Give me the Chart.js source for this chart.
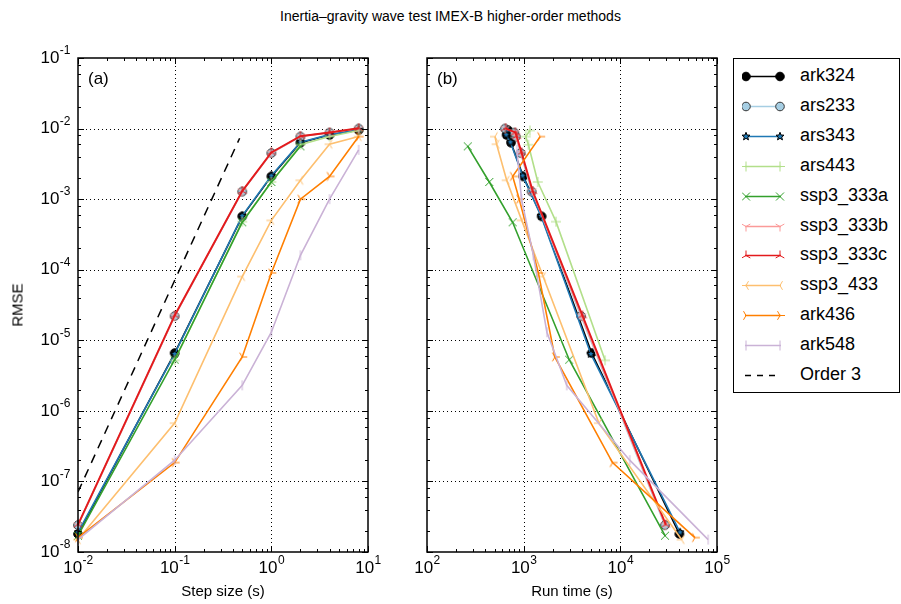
<!DOCTYPE html>
<html>
<head>
<meta charset="utf-8">
<script src="https://cdn.jsdelivr.net/npm/chart.js@4.4.1/dist/chart.umd.min.js"></script>
<style>
  body { margin: 0; background: #fff; font-family: "Liberation Sans", Arial, sans-serif; }
  #wrap { position: relative; width: 901px; height: 604px; overflow: hidden; }
  #c1 { position: absolute; left: 0; top: 0; }
  #c2 { position: absolute; left: 390px; top: 0; }
  .txt { position: absolute; white-space: nowrap; color: #000; }
  #title { left: 0; width: 901px; top: 8px; text-align: center; font-size: 14px; }
  #ylab { left: 17px; top: 305px; font-size: 15px; transform: translate(-50%, -50%) rotate(-90deg); }
  #xlab1 { left: 223px; top: 582px; font-size: 15px; transform: translateX(-50%); }
  #xlab2 { left: 572px; top: 582px; font-size: 15px; transform: translateX(-50%); }
  #legend { position: absolute; left: 733px; top: 58px; width: 165px; height: 333px; border: 1px solid #000; }
  .row { position: absolute; left: 0; width: 165px; height: 24px; }
  .row canvas { position: absolute; left: 8px; top: 2px; }
  .row span { position: absolute; left: 66px; top: 1px; font-size: 18px; white-space: nowrap; }
</style>
</head>
<body>
<div id="wrap">
  <div id="title" class="txt">Inertia–gravity wave test IMEX-B higher-order methods</div>
  <canvas id="c1" width="390" height="604"></canvas>
  <canvas id="c2" width="340" height="604"></canvas>
  <div id="ylab" class="txt">RMSE</div>
  <div id="xlab1" class="txt">Step size (s)</div>
  <div id="xlab2" class="txt">Run time (s)</div>
  <div id="legend"></div>
</div>
<script>
  // step sizes shared by all methods (s)
  var stepSize = [0.01, 0.1, 0.5, 1, 2, 4, 8];

  // RMSE per method, same order as stepSize (null = no run)
  var ark324Rmse = [1.8e-8, 6.6e-6, 5.7e-4, 2.1e-3, 6.3e-3, 8.1e-3, 9.5e-3];
  var ars233Rmse = [2.4e-8, 2.2e-5, 1.28e-3, 4.5e-3, 7.7e-3, 8.75e-3, 1.0e-2];
  var ars343Rmse = [1.9e-8, 6.4e-6, 5.8e-4, 2.15e-3, 6.4e-3, 8.2e-3, 9.6e-3];
  var ars443Rmse = [null, 5.2e-6, 4.8e-4, 1.75e-3, 5.9e-3, 7.7e-3, 9.4e-3];
  var ssp3_333aRmse = [1.7e-8, 5.3e-6, 4.7e-4, 1.75e-3, 5.6e-3, null, null];
  var ssp3_333bRmse = [2.4e-8, 2.2e-5, 1.3e-3, 4.5e-3, 7.8e-3, 8.8e-3, 1.0e-2];
  var ssp3_333cRmse = [2.45e-8, 2.25e-5, 1.3e-3, 4.6e-3, 7.8e-3, 8.8e-3, 1.01e-2];
  var ssp3_433Rmse = [1.5e-8, 6.7e-7, 8.0e-5, 5.0e-4, 1.85e-3, 6.0e-3, 7.7e-3];
  var ark436Rmse = [1.6e-8, 1.85e-7, 5.8e-6, 9.0e-5, 1.0e-3, 2.1e-3, 7.7e-3];
  var ark548Rmse = [1.5e-8, 2.0e-7, 2.3e-6, 1.3e-5, 1.6e-4, 1.0e-3, 5.0e-3];

  // run time per method (s), same order as stepSize
  var ark324Time = [40800, 5050, 1535, 990, 740, 667, 690];
  var ars233Time = [28900, 3920, 1210, 930, 830, 800, 640];
  var ars343Time = [41500, 4950, 1510, 975, 730, 660, 680];
  var ars443Time = [null, 6950, 2160, 1400, 1120, 1050, 1160];
  var ssp3_333aTime = [29000, 2960, 769, 441, 264, null, null];
  var ssp3_333bTime = [29200, 3980, 1225, 940, 835, 810, 645];
  var ssp3_333cTime = [29500, 4050, 1240, 950, 845, 820, 650];
  var ssp3_433Time = [43000, 6000, 1590, 955, 667, 525, 505];
  var ark436Time = [59000, 8300, 2100, 1420, 900, 770, 1480];
  var ark548Time = [81000, 12500, 2790, 1740, 1260, 950, 850];

  // reference slope line
  var order3Step = [0.01, 0.47];
  var order3Rmse = [7.1e-8, 7.3e-3];

  var yTickExp = [-8, -7, -6, -5, -4, -3, -2, -1];
  var x1TickExp = [-2, -1, 0, 1];
  var x2TickExp = [2, 3, 4, 5];

  var series = [
    { name: 'ark324', rmse: ark324Rmse, time: ark324Time, color: '#000000', marker: 'o', fill: '#000000', edge: '#000000' },
    { name: 'ars233', rmse: ars233Rmse, time: ars233Time, color: '#a6cee3', marker: 'o', fill: '#a6cee3', edge: '#333333' },
    { name: 'ars343', rmse: ars343Rmse, time: ars343Time, color: '#1f78b4', marker: 'star', fill: '#1f78b4', edge: '#000000' },
    { name: 'ars443', rmse: ars443Rmse, time: ars443Time, color: '#b2df8a', marker: 'plus' },
    { name: 'ssp3_333a', rmse: ssp3_333aRmse, time: ssp3_333aTime, color: '#33a02c', marker: 'x' },
    { name: 'ssp3_333b', rmse: ssp3_333bRmse, time: ssp3_333bTime, color: '#fb9a99', marker: 'tri_down' },
    { name: 'ssp3_333c', rmse: ssp3_333cRmse, time: ssp3_333cTime, color: '#e31a1c', marker: 'tri_up' },
    { name: 'ssp3_433', rmse: ssp3_433Rmse, time: ssp3_433Time, color: '#fdbf6f', marker: 'tri_left' },
    { name: 'ark436', rmse: ark436Rmse, time: ark436Time, color: '#ff7f00', marker: 'tri_right' },
    { name: 'ark548', rmse: ark548Rmse, time: ark548Time, color: '#cab2d6', marker: 'vline' }
  ];

  var FONT = '"Liberation Sans", Arial, sans-serif';

  // draw one marker centred at (cx, cy)
  function drawMarker(ctx, s, cx, cy) {
    ctx.save();
    ctx.lineWidth = 1;
    ctx.strokeStyle = s.edge || s.color;
    ctx.fillStyle = s.fill || s.color;
    ctx.beginPath();
    var r = 5;
    var arms = null;
    if (s.marker === 'o') {
      ctx.arc(cx, cy, 4.3, 0, Math.PI * 2);
      ctx.fill();
      ctx.stroke();
    } else if (s.marker === 'star') {
      for (var i = 0; i < 10; i++) {
        var rr = i % 2 === 0 ? 4.2 : 1.8;
        var a = -Math.PI / 2 + i * Math.PI / 5;
        var px = cx + rr * Math.cos(a), py = cy + rr * Math.sin(a);
        if (i === 0) ctx.moveTo(px, py); else ctx.lineTo(px, py);
      }
      ctx.closePath();
      ctx.fill();
      ctx.stroke();
    } else if (s.marker === 'plus') {
      arms = [[0, -r], [0, r], [-r, 0], [r, 0]];
    } else if (s.marker === 'x') {
      arms = [[-4, -4], [4, 4], [-4, 4], [4, -4]];
    } else if (s.marker === 'vline') {
      arms = [[0, -r], [0, r]];
    } else {
      var base = { tri_down: Math.PI / 2, tri_up: -Math.PI / 2, tri_left: Math.PI, tri_right: 0 }[s.marker];
      for (var k = 0; k < 3; k++) {
        var ang = base + k * 2 * Math.PI / 3;
        ctx.moveTo(cx, cy);
        ctx.lineTo(cx + r * Math.cos(ang), cy + r * Math.sin(ang));
      }
      ctx.stroke();
    }
    if (arms) {
      for (var j = 0; j < arms.length; j += 2) {
        ctx.moveTo(cx + arms[j][0], cy + arms[j][1]);
        ctx.lineTo(cx + arms[j + 1][0], cy + arms[j + 1][1]);
      }
      ctx.stroke();
    }
    ctx.restore();
  }

  function markerImage(s) {
    var c = document.createElement('canvas');
    c.width = 14; c.height = 14;
    drawMarker(c.getContext('2d'), s, 7, 7);
    return c;
  }

  function powLabel(ctx, x, y, exp, align) {
    var e = exp < 0 ? '-' + (-exp) : '' + exp;
    ctx.font = '17px ' + FONT;
    var bw = ctx.measureText('10').width;
    ctx.font = '12px ' + FONT;
    var ew = ctx.measureText(e).width;
    var left = align === 'right' ? x - bw - ew : x - (bw + ew) / 2;
    ctx.fillStyle = '#000';
    ctx.textAlign = 'left';
    ctx.textBaseline = 'middle';
    ctx.font = '17px ' + FONT;
    ctx.fillText('10', left, y);
    ctx.font = '12px ' + FONT;
    ctx.fillText(e, left + bw + 0.5, y - 7);
  }

  // grid under the data, frame, ticks and labels over it
  function axesPlugin(xExp, showY, panel) {
    return {
      id: 'axes' + panel,
      beforeDatasetsDraw: function (chart) {
        var ctx = chart.ctx, a = chart.chartArea;
        var xs = chart.scales.x, ys = chart.scales.y;
        ctx.save();
        ctx.strokeStyle = '#000';
        ctx.lineWidth = 1;
        ctx.setLineDash([1, 3]);
        ctx.beginPath();
        xExp.slice(1, -1).forEach(function (e) {
          var px = Math.round(xs.getPixelForValue(Math.pow(10, e))) + 0.5;
          ctx.moveTo(px, a.top); ctx.lineTo(px, a.bottom);
        });
        yTickExp.slice(1).forEach(function (e) {
          if (e === -1) return;
          var py = Math.round(ys.getPixelForValue(Math.pow(10, e))) + 0.5;
          ctx.moveTo(a.left, py); ctx.lineTo(a.right, py);
        });
        ctx.stroke();
        ctx.restore();
      },
      afterDraw: function (chart) {
        var ctx = chart.ctx, a = chart.chartArea;
        var xs = chart.scales.x, ys = chart.scales.y;
        ctx.save();
        ctx.strokeStyle = '#000';
        ctx.lineWidth = 1;
        ctx.beginPath();
        var e, m, px, py, len;
        for (e = xExp[0]; e <= xExp[xExp.length - 1]; e++) {
          for (m = 1; m < 10; m++) {
            if (e === xExp[xExp.length - 1] && m > 1) break;
            px = Math.round(xs.getPixelForValue(m * Math.pow(10, e))) + 0.5;
            len = m === 1 ? 6 : 3;
            ctx.moveTo(px, a.bottom); ctx.lineTo(px, a.bottom - len);
            ctx.moveTo(px, a.top); ctx.lineTo(px, a.top + len);
          }
        }
        for (e = -8; e <= -1; e++) {
          for (m = 1; m < 10; m++) {
            if (e === -1 && m > 1) break;
            if (m !== 1 && m % 2 === 1) continue;
            py = Math.round(ys.getPixelForValue(m * Math.pow(10, e))) + 0.5;
            len = m === 1 ? 6 : 3;
            ctx.moveTo(a.left, py); ctx.lineTo(a.left + len, py);
            ctx.moveTo(a.right, py); ctx.lineTo(a.right - len, py);
          }
        }
        ctx.stroke();
        ctx.lineWidth = 1.5;
        ctx.strokeRect(Math.round(a.left), Math.round(a.top), Math.round(a.right - a.left), Math.round(a.bottom - a.top));
        xExp.forEach(function (ex) {
          powLabel(ctx, xs.getPixelForValue(Math.pow(10, ex)), a.bottom + 16, ex, 'center');
        });
        if (showY) {
          yTickExp.forEach(function (ey) {
            powLabel(ctx, a.left - 8, ys.getPixelForValue(Math.pow(10, ey)), ey, 'right');
          });
        }
        ctx.font = '17px ' + FONT;
        ctx.textAlign = 'left';
        ctx.textBaseline = 'middle';
        ctx.fillText(panel, a.left + 10, a.top + 21);
        ctx.restore();
      }
    };
  }

  function buildDatasets(useTime) {
    var sets = series.map(function (s, idx) {
      var pts = [];
      for (var i = 0; i < stepSize.length; i++) {
        if (s.rmse[i] === null) continue;
        pts.push({ x: useTime ? s.time[i] : stepSize[i], y: s.rmse[i] });
      }
      var img = markerImage(s);
      return {
        label: s.name,
        data: pts,
        showLine: true,
        borderColor: s.color,
        borderWidth: s.name === 'ssp3_333c' ? 1.9 : 1.6,
        pointStyle: img,
        pointRadius: 5,
        tension: 0,
        order: 100 - idx,
        clip: 6
      };
    });
    if (!useTime) {
      sets.push({
        label: 'Order 3',
        data: order3Step.map(function (x, i) { return { x: x, y: order3Rmse[i] }; }),
        showLine: true,
        borderColor: '#000',
        borderWidth: 1.5,
        borderDash: [9, 7],
        pointRadius: 0,
        order: 0
      });
    }
    return sets;
  }

  function makeChart(id, useTime, xMin, xMax, xExp, padLeft, padRight, panel) {
    return new Chart(document.getElementById(id).getContext('2d'), {
      type: 'scatter',
      data: { datasets: buildDatasets(useTime) },
      options: {
        responsive: false,
        animation: false,
        events: [],
        layout: { padding: { left: padLeft, right: padRight, top: 58, bottom: 52 } },
        plugins: { legend: { display: false }, tooltip: { enabled: false } },
        scales: {
          x: { type: 'logarithmic', min: xMin, max: xMax, display: false },
          y: { type: 'logarithmic', min: 1e-8, max: 1e-1, display: false }
        }
      },
      plugins: [axesPlugin(xExp, !useTime, panel)]
    });
  }

  makeChart('c1', false, 1e-2, 1e1, x1TickExp, 78, 22, '(a)');
  makeChart('c2', true, 1e2, 1e5, x2TickExp, 37, 13, '(b)');

  // legend: a short line with a marker at each end
  var legend = document.getElementById('legend');
  var legendItems = series.concat([{ name: 'Order 3', color: '#000', dashed: true }]);
  legendItems.forEach(function (s, i) {
    var row = document.createElement('div');
    row.className = 'row';
    row.style.top = (5 + i * 29.9) + 'px';
    var c = document.createElement('canvas');
    c.width = 44; c.height = 20;
    var ctx = c.getContext('2d');
    ctx.strokeStyle = s.color;
    ctx.lineWidth = 1.5;
    if (s.dashed) ctx.setLineDash([6, 6]);
    ctx.beginPath();
    ctx.moveTo(3, 10.5); ctx.lineTo(39, 10.5);
    ctx.stroke();
    if (!s.dashed) {
      drawMarker(ctx, s, 4, 10.5);
      drawMarker(ctx, s, 38, 10.5);
    }
    var t = document.createElement('span');
    t.textContent = s.name;
    row.appendChild(c);
    row.appendChild(t);
    legend.appendChild(row);
  });
</script>
</body>
</html>
